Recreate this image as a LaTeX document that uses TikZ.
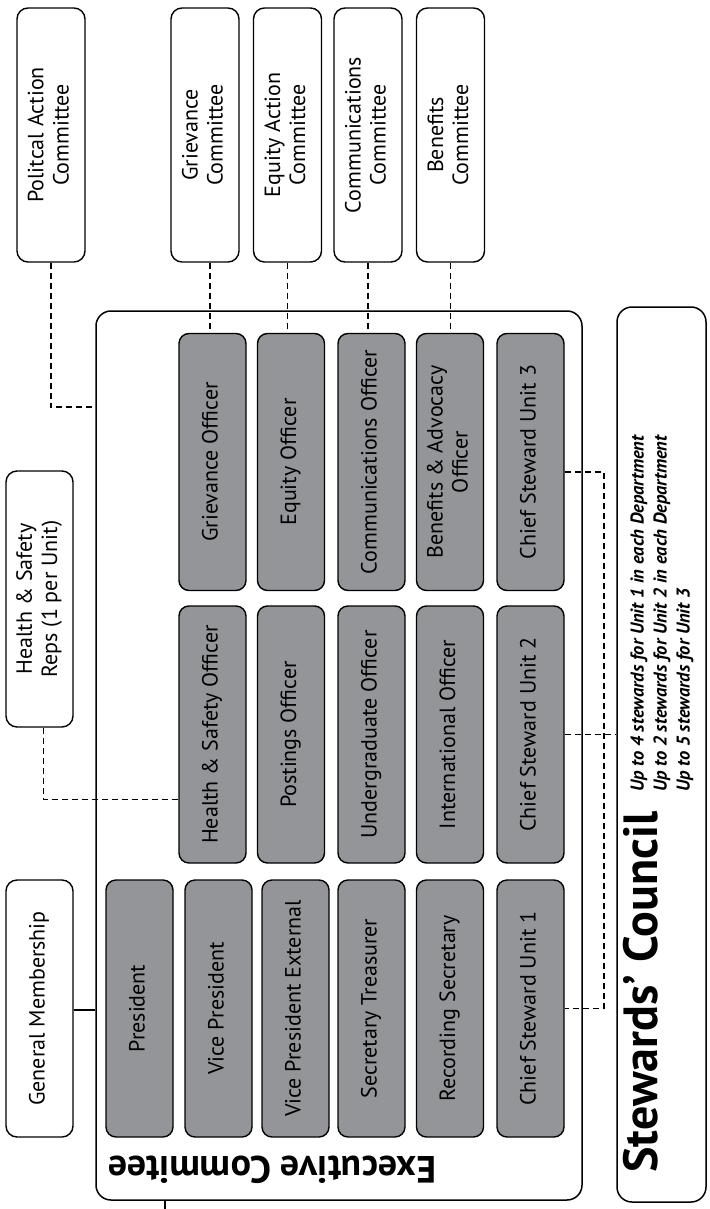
\documentclass[tikz,border=0pt]{standalone}
\usepackage{fontspec}
\setmainfont{PT Sans}
\usepackage{graphicx}
\definecolor{boxgray}{RGB}{147,149,152}
\newcommand{\vt}[1]{\rotatebox{90}{\begin{tabular}{@{}c@{}}#1\end{tabular}}}
\begin{document}
\begin{tikzpicture}[x=1pt,y=-1pt,
  office/.style={draw=black, line width=1.4pt, fill=boxgray, rounded corners=10pt,
    minimum width=67pt, minimum height=257pt, inner sep=0pt,
    font=\fontsize{22}{25}\selectfont},
  comm/.style={draw=black, line width=1.4pt, fill=white, rounded corners=11pt,
    minimum width=68pt, minimum height=254pt, inner sep=0pt,
    font=\fontsize{22}{25}\selectfont},
  bigbox/.style={draw=black, line width=1.5pt, fill=white, rounded corners=15pt, inner sep=0pt},
  link/.style={line width=1.6pt, dash pattern=on 6pt off 4pt},
  solidlink/.style={line width=1.5pt}]
\useasboundingbox (0,0) rectangle (709,1209);
\fill[white] (0,0) rectangle (709,1209);

% big containers
\node[bigbox, minimum width=486pt, minimum height=889pt] (exec) at (339,755.5) {};
\node[bigbox, minimum width=89pt, minimum height=895pt] (sc) at (661.5,754.5) {};

% committees
\node[comm] (pac) at (51,135) {\vt{Politcal Action\\Committee}};
\node[comm] (grc) at (205,135) {\vt{Grievance\\Committee}};
\node[comm] (eqc) at (287.5,135) {\vt{Equity Action\\Committee}};
\node[comm] (coc) at (368,135) {\vt{Communications\\Committee}};
\node[comm] (bec) at (450.5,135) {\vt{Benefits\\Committee}};

% side boxes
\node[comm, minimum width=67pt, minimum height=256pt] (hsr) at (39.5,599) {\vt{Health \& Safety\\Reps (1 per Unit)}};
\node[comm, minimum width=67pt, minimum height=257pt] (gm) at (39.5,1008.5) {\vt{General Membership}};

% offices top row
\node[office] (gro) at (212.5,462) {\vt{Grievance Officer}};
\node[office] (eqo) at (291,462) {\vt{Equity Officer}};
\node[office] (coo) at (371.5,462) {\vt{Communications Officer}};
\node[office] (beo) at (450,462) {\vt{Benefits \& Advocacy\\Officer}};
\node[office] (cs3) at (530.5,462) {\vt{Chief Steward Unit 3}};
% middle row
\node[office] (hso) at (212.5,734.5) {\vt{Health \& Safety Officer}};
\node[office] (poo) at (291,734.5) {\vt{Postings Officer}};
\node[office] (ugo) at (371.5,734.5) {\vt{Undergraduate Officer}};
\node[office] (ino) at (450,734.5) {\vt{International Officer}};
\node[office] (cs2) at (530.5,734.5) {\vt{Chief Steward Unit 2}};
% bottom row
\node[office] (pre) at (139.5,1008.5) {\vt{President}};
\node[office] (vp) at (218.5,1008.5) {\vt{Vice President}};
\node[office] (vpe) at (295.5,1008.5) {\vt{Vice President External}};
\node[office] (st) at (371.5,1008.5) {\vt{Secretary Treasurer}};
\node[office] (rs) at (450,1008.5) {\vt{Recording Secretary}};
\node[office] (cs1) at (530.5,1008.5) {\vt{Chief Steward Unit 1}};

% titles
\node[rotate=180, inner sep=0pt, font=\bfseries\fontsize{38}{42}\selectfont] (ettl) at (272,1170) {Executive Commitee};
\node[rotate=90, anchor=west, inner sep=0pt, font=\bfseries\fontsize{48}{52}\selectfont] (sttl) at (641,1173) {Stewards’ Council};
\node[rotate=90, anchor=west, align=left, inner sep=0pt,
  font=\bfseries\itshape\fontsize{18.5}{23}\selectfont] (snote) at (662,792)
  {Up to 4 stewards for Unit 1 in each Department\\Up to 2 stewards for Unit 2 in each Department\\Up to 5 stewards for Unit 3};

% connectors
\draw[link] (pac.south) |- ([yshift=-97pt]exec.north west);
\draw[link] ([xshift=5pt]grc.south) -- ([xshift=5pt]grc.south |- gro.north);
\draw[link] (eqc.south) -- (eqc.south |- eqo.north);
\draw[link] (coc.south) -- (coc.south |- coo.north);
\draw[link] (bec.south) -- (bec.south |- beo.north);
\draw[link] ([xshift=4pt]hsr.south) |- ([yshift=-65pt]hso.west);
\draw[solidlink] ([yshift=-1.5pt]gm.east) -- ([yshift=-1.5pt]gm.east -| exec.west);
\coordinate (stub) at (165,1209);
\draw[solidlink] (stub |- exec.south) -- (stub);
\draw[link] ([yshift=-10pt]cs3.east) -- ++(39,0) |- (cs1.east);
\draw[link] (cs2.east) -- (cs2.east -| sc.west);
\end{tikzpicture}
\end{document}
